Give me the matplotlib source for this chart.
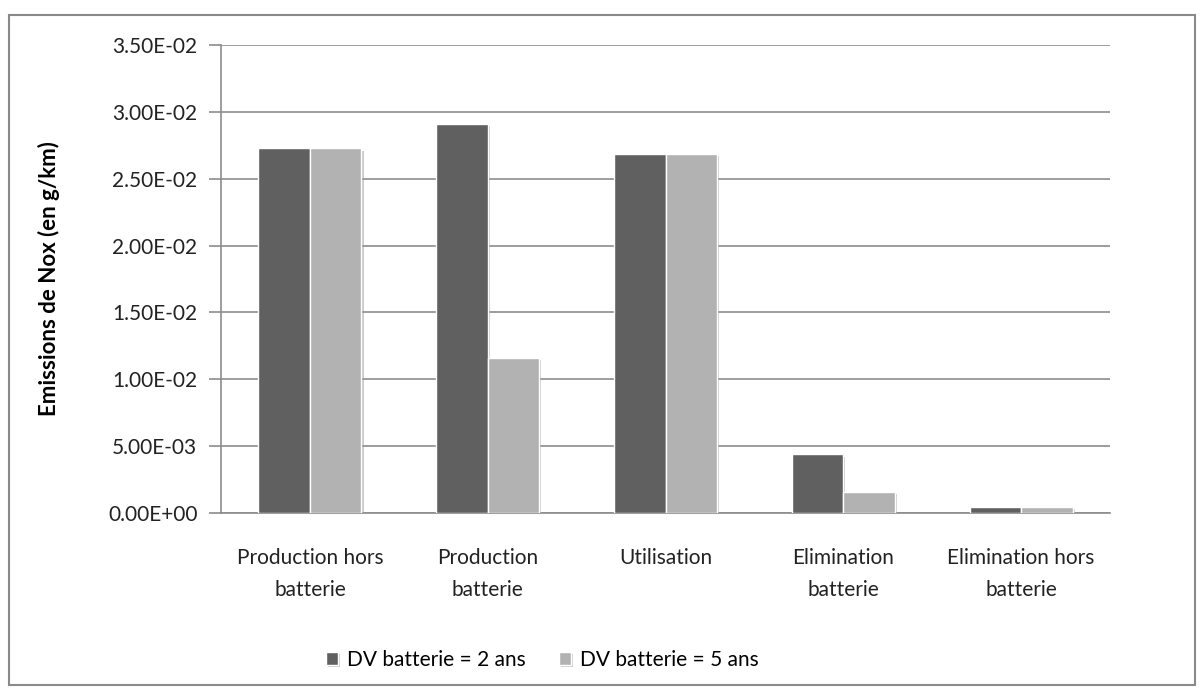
import matplotlib
matplotlib.use("Agg")
import matplotlib.pyplot as plt
import matplotlib.patheffects as pe
from matplotlib.patches import Rectangle
from matplotlib.ticker import FuncFormatter
import numpy as np

plt.rcParams['font.family'] = ['Lato', 'DejaVu Sans']

categories = ['Production hors\nbatterie', 'Production\nbatterie', 'Utilisation',
              'Elimination\nbatterie', 'Elimination hors\nbatterie']
dv_2_ans = [0.02726, 0.02908, 0.02684, 0.00438, 0.00047]
dv_5_ans = [0.02726, 0.01159, 0.02684, 0.00159, 0.00047]
series_labels = ['DV batterie = 2 ans', 'DV batterie = 5 ans']
y_ticks = np.arange(0, 0.0351, 0.005)

fig = plt.figure(figsize=(12.03, 6.89), dpi=100)
ax = fig.add_axes([221/1203, 1 - 513/689, (1110-221)/1203, (513-45)/689])

# outer chart border
fig.patches.append(Rectangle((9/1203, 4/689), 1186/1203, 670/689, transform=fig.transFigure,
                             fill=False, edgecolor='#8a8a8a', linewidth=1.5))

x = np.arange(len(categories))
w = 0.29
shadow = [pe.SimplePatchShadow(offset=(1.5, -1.5), shadow_rgbFace='#999999', alpha=0.5), pe.Normal()]
b1 = ax.bar(x - w/2, dv_2_ans, w, color='#606060', edgecolor='white', linewidth=1,
            label=series_labels[0], zorder=3)
b2 = ax.bar(x + w/2, dv_5_ans, w, color='#b2b2b2', edgecolor='white', linewidth=1,
            label=series_labels[1], zorder=3)
for b in list(b1) + list(b2):
    b.set_path_effects(shadow)

ax.set_xlim(-0.5, len(categories) - 0.5)
ax.set_ylim(0, 0.035)
ax.set_yticks(y_ticks)
ax.yaxis.set_major_formatter(FuncFormatter(lambda v, p: '%.2E' % v))
ax.grid(axis='y', color='#8c8c8c', linewidth=1.2, zorder=0)
ax.set_axisbelow(True)

for s in ['top', 'right']:
    ax.spines[s].set_visible(False)
ax.spines['left'].set_color('#8c8c8c')
ax.spines['bottom'].set_color('#8c8c8c')
ax.spines['left'].set_linewidth(1.2)
ax.spines['bottom'].set_linewidth(1.2)

ax.set_xticks(x)
ax.set_xticklabels(categories, fontsize=15, color='#222222', linespacing=1.75)
ax.tick_params(axis='x', length=0, pad=25)
ax.tick_params(axis='y', length=9, color='#8c8c8c', width=1.2, labelsize=15, labelcolor='#222222', pad=8)

ax.set_ylabel('Emissions de Nox (en g/km)', fontsize=16, fontweight='bold')
ax.yaxis.set_label_coords(-0.181, 0.5)

fig.legend(handles=[b1, b2], loc='center', bbox_to_anchor=(542/1203, 1 - 660/689), ncol=2,
           frameon=False, fontsize=15, handlelength=0.6, handleheight=0.6,
           handletextpad=0.4, columnspacing=1.6)

fig.savefig('out.png', dpi=100)
